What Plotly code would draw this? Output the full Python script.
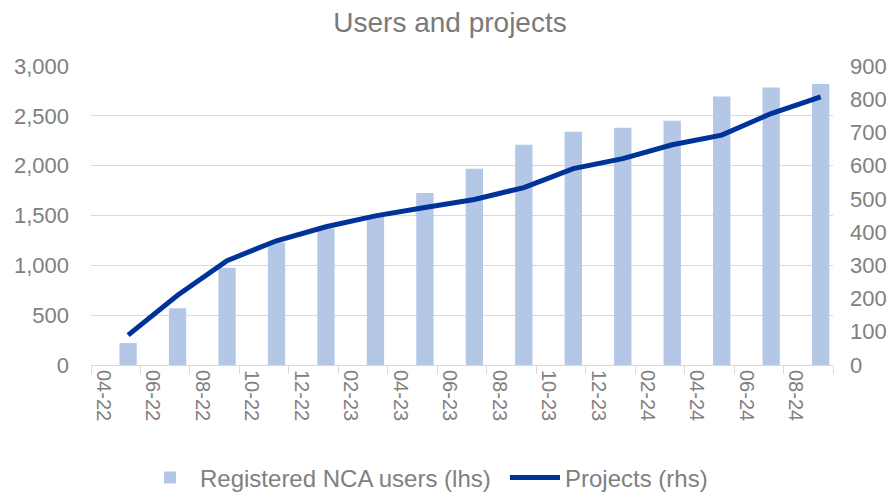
import plotly.graph_objects as go

# ---- data ----
bar_months = ["05-22", "07-22", "09-22", "11-22", "01-23", "03-23", "05-23", "07-23",
              "09-23", "11-23", "01-24", "03-24", "05-24", "07-24", "09-24"]
users = [220, 570, 975, 1230, 1370, 1490, 1725, 1970, 2210, 2340, 2380, 2450, 2695, 2785, 2820]
projects = [90, 210, 314, 374, 416, 449, 474, 498, 534, 591, 621, 663, 692, 757, 807]
tick_labels = ["04-22", "06-22", "08-22", "10-22", "12-22", "02-23", "04-23", "06-23",
               "08-23", "10-23", "12-23", "02-24", "04-24", "06-24", "08-24"]
axis_start = "04-22"
axis_end = "09-24"


def month_index(s):
    mm, yy = s.split("-")
    sm, sy = axis_start.split("-")
    return (int(yy) - int(sy)) * 12 + int(mm) - int(sm)


bar_x = [month_index(m) for m in bar_months]
tick_x = [month_index(m) for m in tick_labels]
x_lo = month_index(axis_start) - 0.5
x_hi = month_index(axis_end) + 0.5

GREY = "#808080"
GRID = "#d9d9d9"
FONT = "Liberation Sans, Arial, sans-serif"

fig = go.Figure()
fig.add_trace(go.Bar(
    x=bar_x, y=users, name="Registered NCA users (lhs)",
    marker=dict(color="#b4c7e7", line=dict(width=0)), width=0.7,
))
fig.add_trace(go.Scatter(
    x=bar_x, y=projects, name="Projects (rhs)", yaxis="y2", mode="lines",
    line=dict(color="#003399", width=5),
))

fig.update_layout(
    width=893, height=492,
    margin=dict(l=91, r=60, t=66, b=127, autoexpand=False),
    paper_bgcolor="white", plot_bgcolor="white",
    font=dict(family=FONT, color=GREY, size=20),
    title=dict(text="Users and projects", x=450 / 893, xanchor="center", xref="container",
               y=1 - 22 / 492, yanchor="middle", yref="container",
               font=dict(size=28, color="#7a7a7a", family=FONT)),
    bargap=0.3,
    showlegend=True,
    legend=dict(orientation="h", x=140 / 893, xanchor="left", xref="container",
                yref="container", y=(492 - 478) / 492, yanchor="middle",
                font=dict(size=24, color=GREY), bgcolor="rgba(0,0,0,0)",
                itemwidth=50, entrywidth=300, traceorder="normal"),
    xaxis=dict(
        range=[x_lo, x_hi], tickmode="array", tickvals=tick_x, ticktext=tick_labels,
        tickangle=90, ticks="", showgrid=False, zeroline=False, automargin=False,
        showline=True, linecolor=GRID, linewidth=1,
        tickfont=dict(size=20, color=GREY),
        minor=dict(tick0=x_lo, dtick=2, ticks="outside", ticklen=8,
                   tickcolor=GRID, tickwidth=1, showgrid=False),
    ),
    yaxis=dict(
        range=[0, 3000], dtick=500, tickformat=",d", showgrid=True, gridcolor=GRID,
        gridwidth=1, zeroline=False, showline=False, ticks="", automargin=False,
        tickfont=dict(size=22, color=GREY), ticklabelstandoff=21,
    ),
    yaxis2=dict(
        range=[0, 900], dtick=100, overlaying="y", side="right", showgrid=False,
        zeroline=False, showline=False, ticks="", automargin=False,
        tickfont=dict(size=22, color=GREY), ticklabelstandoff=16,
    ),
)

fig.write_html("out.html", config={"displayModeBar": False},
               post_script="document.body.style.margin='0px';document.body.style.overflow='hidden';")
